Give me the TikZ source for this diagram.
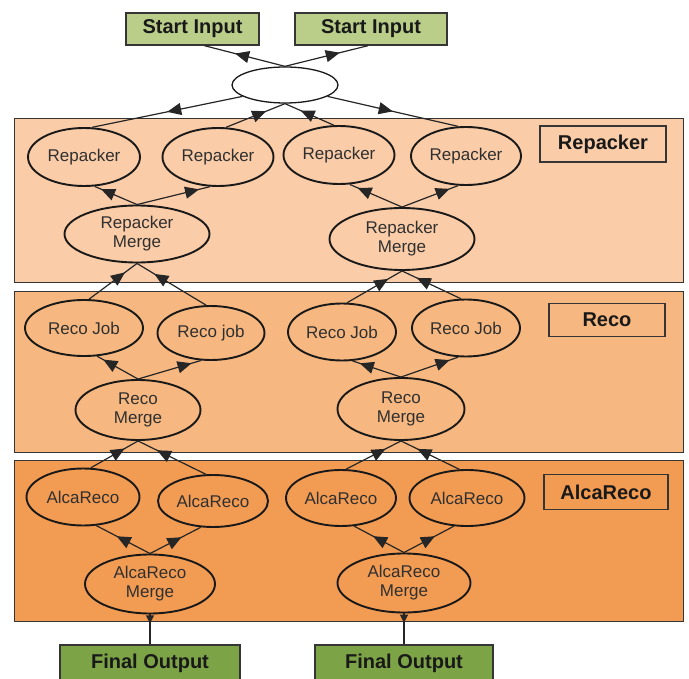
\documentclass[tikz,border=0pt]{standalone}
\usepackage{fontspec}
\setmainfont{Liberation Sans}
\usetikzlibrary{shapes.geometric,arrows.meta,decorations.markings,calc}
\definecolor{repc}{HTML}{FACCA8}
\definecolor{recoc}{HTML}{F6B780}
\definecolor{alcac}{HTML}{F29B53}
\definecolor{startc}{HTML}{BACE8A}
\definecolor{finalc}{HTML}{7CA346}
\definecolor{linec}{HTML}{353535}
\definecolor{txtc}{HTML}{303030}
\begin{document}
\begin{tikzpicture}[x=1pt,y=-1pt,
  band/.style={draw=linec,line width=1.4pt,inner sep=0,anchor=north west},
  lbl/.style={draw=linec,line width=1.6pt,inner sep=0,font=\bfseries\fontsize{20}{22}\selectfont,text=black!90},
  iobox/.style={draw=linec,line width=1.4pt,inner sep=0,font=\bfseries\fontsize{20}{22}\selectfont,text=black!90},
  job/.style={ellipse,draw=black!90,line width=1.9pt,inner sep=0,align=center,text=txtc,font=\fontsize{17}{19}\selectfont},
  conn/.style={line width=1.2pt,draw=black!85},
  tipat/.style={postaction={decorate},decoration={markings,mark=at position #1 with {\arrow{Triangle[length=14pt,width=12pt]}}}},
  smalltip/.style={postaction={decorate},decoration={markings,mark=at position #1 with {\arrow{Triangle[length=8pt,width=8pt]}}}}
]
\useasboundingbox (0,0) rectangle (689,679);
\fill[white] (0,0) rectangle (689,679);

% bands
\node[band,fill=repc,minimum width=669,minimum height=164] (bandrep) at (14,118) {};
\node[band,fill=recoc,minimum width=669,minimum height=161] (bandreco) at (14,291) {};
\node[band,fill=alcac,minimum width=669,minimum height=161] (bandalca) at (14,460) {};

\node[lbl,fill=repc,minimum width=126,minimum height=36] (lrep) at (603,144) {Repacker};
\node[lbl,fill=recoc,minimum width=116,minimum height=33] (lreco) at (607,320) {Reco};
\node[lbl,fill=alcac,minimum width=124,minimum height=35] (lalca) at (606,492) {AlcaReco};

% input / output
\node[iobox,fill=startc,minimum width=133,minimum height=32] (si1) at (192.5,29) {Start Input};
\node[iobox,fill=startc,minimum width=152,minimum height=32] (si2) at (371,29) {Start Input};
\node[iobox,fill=finalc,minimum width=180,minimum height=36] (fo1) at (150,663) {Final Output};
\node[iobox,fill=finalc,minimum width=178,minimum height=36] (fo2) at (404,663) {Final Output};

% hub
\node[ellipse,draw=black!90,line width=1.3pt,fill=white,minimum width=106,minimum height=36,inner sep=0] (hub) at (285,85) {};

% repacker
\node[job,minimum width=112,minimum height=58] (rp1) at (84,157) {Repacker};
\node[job,minimum width=111,minimum height=58] (rp2) at (218,157) {Repacker};
\node[job,minimum width=111,minimum height=58] (rp3) at (339,155) {Repacker};
\node[job,minimum width=110,minimum height=58] (rp4) at (466,156) {Repacker};
\node[job,minimum width=145,minimum height=57] (rm1) at (137,234) {Repacker\\Merge};
\node[job,minimum width=145,minimum height=62] (rm2) at (402,239) {Repacker\\Merge};

% reco
\node[job,minimum width=118,minimum height=56] (rj1) at (84,328) {Reco Job};
\node[job,minimum width=107,minimum height=54] (rj2) at (211,333) {Reco job};
\node[job,minimum width=108,minimum height=57] (rj3) at (342,332) {Reco Job};
\node[job,minimum width=108,minimum height=57] (rj4) at (466,328) {Reco Job};
\node[job,minimum width=125,minimum height=60] (rcm1) at (138,410) {Reco\\Merge};
\node[job,minimum width=127,minimum height=62] (rcm2) at (401,409) {Reco\\Merge};

% alcareco
\node[job,minimum width=113,minimum height=57] (ar1) at (83,497) {AlcaReco};
\node[job,minimum width=110,minimum height=52] (ar2) at (213,501) {AlcaReco};
\node[job,minimum width=110,minimum height=56] (ar3) at (341,498) {AlcaReco};
\node[job,minimum width=115,minimum height=56] (ar4) at (467,498) {AlcaReco};
\node[job,minimum width=130,minimum height=59] (arm1) at (150,584) {AlcaReco\\Merge};
\node[job,minimum width=133,minimum height=59] (arm2) at (404,583) {AlcaReco\\Merge};

% connectors: start inputs and hub
\draw[conn,tipat=0.62] (hub.north) -- ($(si1.south)+(12,0)$);
\draw[conn,tipat=0.66] (hub.north) -- ($(si2.south)+(-3,0)$);
\draw[conn,tipat=0.5] (hub.195) -- (rp1.75);
\draw[conn,tipat=0.5] (hub.-15) -- (rp4.105);
\draw[conn,tipat=0.68] (rp2.75) -- (hub.south);
\draw[conn,tipat=0.68] (rp3.100) -- (hub.south);

% repacker -> merge
\draw[conn,tipat=0.85] (rm1.north) -- (rp1.-70);
\draw[conn,tipat=0.85] (rm1.north) -- (rp2.-105);
\draw[conn,tipat=0.85] (rm2.north) -- (rp3.-70);
\draw[conn,tipat=0.85] (rm2.north) -- (rp4.-105);

% merge -> reco jobs
\draw[conn,tipat=0.75] (rj1.80) -- (rm1.south);
\draw[conn,tipat=0.75] (rj2.100) -- (rm1.south);
\draw[conn,tipat=0.75] (rj3.80) -- (rm2.south);
\draw[conn,tipat=0.75] (rj4.100) -- (rm2.south);

% reco jobs -> reco merge
\draw[conn,tipat=0.85] (rcm1.north) -- (rj1.-65);
\draw[conn,tipat=0.85] (rcm1.north) -- (rj2.-110);
\draw[conn,tipat=0.85] (rcm2.north) -- (rj3.-70);
\draw[conn,tipat=0.85] (rcm2.north) -- (rj4.-105);

% reco merge -> alcareco
\draw[conn,tipat=0.72] (ar1.75) -- (rcm1.south);
\draw[conn,tipat=0.72] (ar2.105) -- (rcm1.south);
\draw[conn,tipat=0.72] (ar3.80) -- (rcm2.south);
\draw[conn,tipat=0.72] (ar4.105) -- (rcm2.south);

% alcareco -> merge
\draw[conn,tipat=0.62] (arm1.north) -- (ar1.-65);
\draw[conn,tipat=0.62] (arm1.north) -- (ar2.-115);
\draw[conn,tipat=0.62] (arm2.north) -- (ar3.-65);
\draw[conn,tipat=0.62] (arm2.north) -- (ar4.-115);

% merge -> final
\draw[conn,smalltip=0.3] (arm1.south) -- (fo1.north);
\draw[conn,smalltip=0.3] (arm2.south) -- (fo2.north);
\end{tikzpicture}
\end{document}
